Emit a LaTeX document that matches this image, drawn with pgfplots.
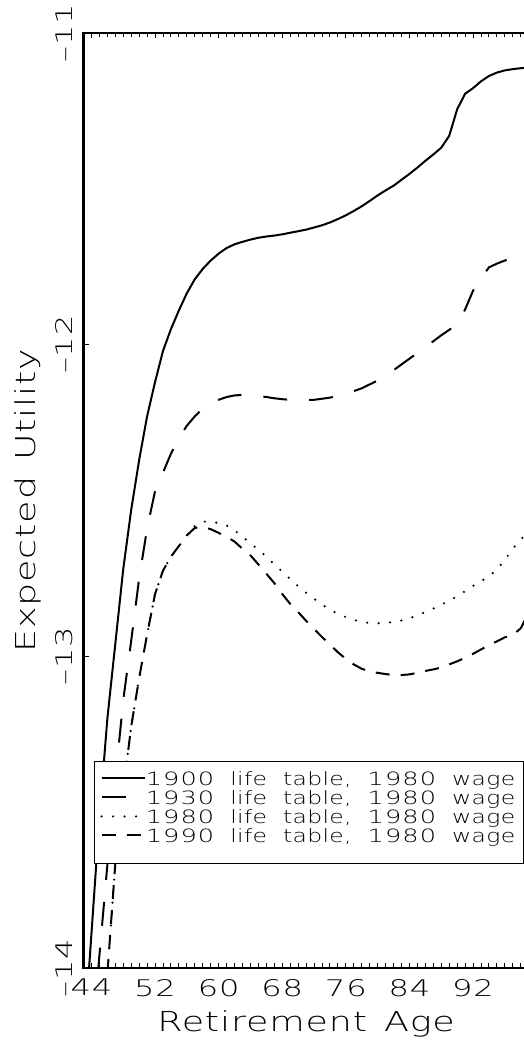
\documentclass[border=0pt]{standalone}
\usepackage{fontspec}
\usepackage{pgfplots}
\pgfplotsset{compat=1.18}
\setmainfont{DejaVuSans-ExtraLight.ttf}[FakeStretch=1.28, LetterSpace=2]
\newfontfamily\titlefam{DejaVuSans-ExtraLight.ttf}[FakeStretch=1.33, LetterSpace=3]
\newfontfamily\digits{DejaVuSans-ExtraLight.ttf}[FakeStretch=1.4, LetterSpace=4]
\newfontfamily\legdigits{DejaVuSans-ExtraLight.ttf}[FakeStretch=1.4, LetterSpace=6]
\newcommand\tickfont{\digits\fontsize{22.9}{23}\selectfont}
\newcommand\titlefont{\titlefam\fontsize{27.4}{28}\selectfont}
\newcommand\legfont{\fontsize{18.3}{19}\selectfont}
\newcommand\gap{\hspace{16pt}}
\newcommand\entry[2]{{\legdigits #1}\gap life\gap table,\gap{\legdigits #2}\gap wage}

\begin{document}
\begin{tikzpicture}
\begin{axis}[
    at={(83.5pt,79pt)}, anchor=south west,
    scale only axis, width=445.2pt, height=935pt,
    xmin=43, xmax=99, ymin=-14, ymax=-11,
    xtick={44,52,60,68,76,84,92},
    xticklabels={44,52,60,68,76,84,92},
    minor xtick={43,...,99},
    ytick={-14,-13,-12,-11},
    yticklabels={–14,–13,–12,–11},
    axis line style={line width=2.5pt},
    tick style={line width=1pt, black},
    major tick length=5pt, minor tick length=4.5pt,
    xticklabel style={font=\tickfont, anchor=north, inner sep=0pt},
    xticklabel shift=11pt,
    yticklabel style={font=\tickfont, rotate=90, anchor=south, inner sep=0pt},
    yticklabel shift=10.5pt,
    xlabel={Retirement\hspace{17pt}Age},
    xlabel style={at={(axis description cs:0.5,-0.06845)}, anchor=base, font=\titlefont, inner sep=0pt},
    ylabel={Expected\hspace{16pt}Utility},
    ylabel style={at={(axis description cs:-0.1089,0.5)}, anchor=base, font=\titlefont, inner sep=0pt},
    legend style={at={(axis description cs:0.0236,0.2214)}, anchor=north west,
        draw=black, line width=0.8pt, fill=white, inner xsep=6pt, inner ysep=10.4pt,
        row sep=0pt, font=\legfont,
        nodes={inner sep=0pt, text height=13.3pt, text depth=5.7pt, text width=372pt},
        cells={anchor=base west}},
    legend image code/.code={\draw[#1] (0pt,6.65pt) -- (43pt,6.65pt);},
]
% 1900 life table
\addplot[black, line width=2pt] coordinates {
(43,-14.26) (44,-13.89) (45,-13.52) (46,-13.20) (47,-12.96) (48,-12.72) (49,-12.53)
(50,-12.37) (51,-12.23) (52,-12.12) (53,-12.02) (54,-11.95) (55,-11.89) (56,-11.835)
(57,-11.79) (58,-11.757) (59,-11.73) (60,-11.708) (61,-11.69) (62,-11.678) (63,-11.67)
(64,-11.663) (65,-11.657) (66,-11.653) (67,-11.65) (68,-11.646) (69,-11.641) (70,-11.636)
(71,-11.631) (72,-11.624) (73,-11.617) (74,-11.608) (75,-11.597) (76,-11.585) (77,-11.571)
(78,-11.556) (79,-11.539) (80,-11.521) (81,-11.505) (82,-11.49) (83,-11.471) (84,-11.452)
(85,-11.432) (86,-11.41) (87,-11.39) (88,-11.368) (89,-11.33) (90,-11.245) (91,-11.195)
(92,-11.177) (93,-11.155) (94,-11.138) (95,-11.127) (96,-11.12) (97,-11.116) (98,-11.113)
(99,-11.111) (100,-11.11)};
\addlegendentry{\entry{1900}{1980}}
% 1930 life table
\addplot[black, line width=2pt, dash pattern=on 24pt off 22pt] coordinates {
(43,-14.6) (44,-14.25) (45,-13.96) (46,-13.67) (47,-13.40) (48,-13.14) (49,-12.95)
(50,-12.75) (51,-12.59) (52,-12.47) (53,-12.41) (54,-12.35) (55,-12.30) (56,-12.26)
(57,-12.23) (58,-12.205) (59,-12.19) (60,-12.177) (61,-12.168) (62,-12.163) (63,-12.161)
(64,-12.162) (65,-12.165) (66,-12.168) (67,-12.172) (68,-12.175) (69,-12.177) (70,-12.178)
(72,-12.177) (74,-12.17) (76,-12.158) (78,-12.14) (80,-12.115) (82,-12.082) (84,-12.045)
(86,-12.008) (88,-11.97) (90,-11.935) (91,-11.887) (92,-11.827) (93,-11.787) (94,-11.752)
(95,-11.74) (96,-11.73) (97,-11.722) (98,-11.716) (99,-11.711) (100,-11.706)};
\addlegendentry{\entry{1930}{1980}}
% 1980 life table
\addplot[black, line width=2.4pt, line cap=round, dash pattern=on 0pt off 11.5pt] coordinates {
(43,-15.3) (44,-14.85) (45,-14.42) (46,-14.02) (47,-13.665) (48,-13.43) (49,-13.225)
(50,-13.07) (51,-12.93) (52,-12.80) (53,-12.725) (54,-12.68) (55,-12.646) (56,-12.612)
(57,-12.582) (58,-12.568) (59,-12.567) (60,-12.573) (61,-12.58) (62,-12.596) (63,-12.616)
(64,-12.637) (65,-12.658) (66,-12.68) (67,-12.705) (68,-12.728) (69,-12.752) (70,-12.775)
(71,-12.796) (72,-12.815) (73,-12.834) (74,-12.85) (75,-12.864) (76,-12.874) (77,-12.883)
(78,-12.89) (79,-12.893) (80,-12.894) (81,-12.893) (82,-12.89) (83,-12.885) (84,-12.878)
(85,-12.869) (86,-12.858) (87,-12.847) (88,-12.834) (89,-12.822) (90,-12.807) (91,-12.791)
(92,-12.774) (93,-12.759) (94,-12.743) (95,-12.722) (96,-12.69) (97,-12.655) (98,-12.625)
(99,-12.60) (100,-12.575)};
\addlegendentry{\entry{1980}{1980}}
% 1990 life table
\addplot[black, line width=2pt, dash pattern=on 14pt off 11pt] coordinates {
(43,-15.3) (44,-14.85) (45,-14.42) (46,-14.02) (47,-13.665) (48,-13.43) (49,-13.225)
(50,-13.07) (51,-12.93) (52,-12.80) (53,-12.725) (54,-12.68) (55,-12.646) (56,-12.612)
(57,-12.588) (58,-12.585) (59,-12.592) (60,-12.604) (61,-12.616) (62,-12.632) (63,-12.655)
(64,-12.676) (65,-12.705) (66,-12.735) (67,-12.765) (68,-12.8) (69,-12.832) (70,-12.858)
(71,-12.886) (72,-12.912) (73,-12.938) (74,-12.962) (75,-12.987) (76,-13.008) (77,-13.026)
(78,-13.04) (79,-13.048) (80,-13.053) (81,-13.057) (82,-13.06) (83,-13.06) (84,-13.058)
(85,-13.053) (86,-13.047) (87,-13.042) (88,-13.036) (89,-13.026) (90,-13.016) (91,-13.005)
(92,-12.992) (93,-12.978) (94,-12.964) (95,-12.952) (96,-12.939) (97,-12.932) (98,-12.91)
(99,-12.86) (100,-12.83)};
\addlegendentry[text depth=11pt]{\entry{1990}{1980}}
\end{axis}
\pgfresetboundingbox
\useasboundingbox (0,0) rectangle (523pt,1047pt);
\end{tikzpicture}
\end{document}
